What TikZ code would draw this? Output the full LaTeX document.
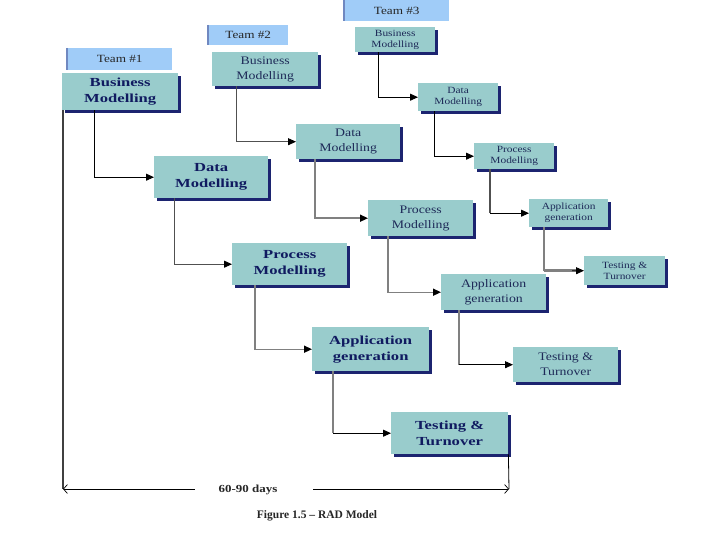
\documentclass[tikz,border=0pt]{standalone}
\usepackage{fontspec}
\setmainfont{Liberation Serif}
\newfontfamily\radfont[FakeStretch=1.2]{Liberation Serif}
\newfontfamily\tonefont[FakeStretch=1.35]{Liberation Serif}
\usetikzlibrary{arrows.meta,shadows,calc}
\definecolor{boxfill}{HTML}{99CCCC}
\definecolor{shadownavy}{HTML}{1C2470}
\definecolor{navytext}{HTML}{101A60}
\definecolor{bluetext}{HTML}{1E2A58}
\definecolor{teamfill}{HTML}{A0CCF8}
\definecolor{teamedge}{HTML}{7088C0}
\definecolor{linegray}{HTML}{505050}
\definecolor{lightline}{HTML}{808080}
\tikzset{
  box/.style={fill=boxfill, inner sep=0pt, align=center, anchor=north west,
    drop shadow={shadow xshift=2.5pt, shadow yshift=-2.5pt, fill=shadownavy, opacity=1}},
  boxone/.style={box, text=navytext, font=\tonefont\bfseries\fontsize{12.3}{16}\selectfont},
  boxtwo/.style={box, text=bluetext, font=\radfont\fontsize{11.5}{15}\selectfont},
  boxthree/.style={box, text=bluetext, font=\radfont\fontsize{9.5}{11}\selectfont},
  team/.style={fill=teamfill, inner sep=0pt, anchor=north west, text=black!85,
    font=\radfont\fontsize{11}{13}\selectfont},
  conn/.style={draw=linegray, line width=0.9pt, -{Triangle[length=8pt,width=7pt,color=black]}},
  connlight/.style={conn, draw=lightline, line width=1.4pt},
  seg/.style={draw=lightline, line width=1.4pt},
  thickseg/.style={draw=lightline, line width=2.8pt},
  darkthick/.style={draw=linegray, line width=2.6pt},
}
\begin{document}
\begin{tikzpicture}[x=1pt,y=-1pt]
\useasboundingbox (0,0) rectangle (720,540);
\fill[white] (0,0) rectangle (720,540);

% Team labels
\node[team, minimum width=105pt, minimum height=22pt] (team1) at (67,48) {Team \#1};
\node[team, minimum width=80pt, minimum height=20pt] (team2) at (208,25) {Team \#2};
\node[team, minimum width=105pt, minimum height=21pt] (team3) at (344,0) {Team \#3};
\draw[teamedge, line width=1.2pt] (team1.north west) -- (team1.south west);
\draw[teamedge, line width=1.2pt] (team2.north west) -- (team2.south west);
\draw[teamedge, line width=1.2pt] (team3.north west) -- (team3.south west);

% Team 1
\node[boxone, minimum width=116pt, minimum height=37pt] (t1bm) at (62,73) {Business\\Modelling};
\node[boxone, minimum width=114pt, minimum height=42pt] (t1dm) at (154,156) {Data\\Modelling};
\node[boxone, minimum width=115pt, minimum height=42pt] (t1pm) at (232,243) {Process\\Modelling};
\node[boxone, minimum width=117pt, minimum height=44pt] (t1ag) at (312,327) {Application\\generation};
\node[boxone, minimum width=117pt, minimum height=42pt] (t1tt) at (391,412) {Testing \&\\Turnover};

% Team 2
\node[boxtwo, minimum width=106pt, minimum height=34pt] (t2bm) at (212,52) {Business\\Modelling};
\node[boxtwo, minimum width=104pt, minimum height=35pt] (t2dm) at (296,124) {Data\\Modelling};
\node[boxtwo, minimum width=105pt, minimum height=36pt] (t2pm) at (368,200) {Process\\Modelling};
\node[boxtwo, minimum width=105pt, minimum height=36pt] (t2ag) at (441,274) {Application\\generation};
\node[boxtwo, minimum width=105pt, minimum height=35pt] (t2tt) at (513,347) {Testing \&\\Turnover};

% Team 3
\node[boxthree, minimum width=80pt, minimum height=25pt] (t3bm) at (355,27) {Business\\Modelling};
\node[boxthree, minimum width=80pt, minimum height=28pt] (t3dm) at (418,83) {Data\\Modelling};
\node[boxthree, minimum width=80pt, minimum height=26pt] (t3pm) at (474,143) {Process\\Modelling};
\node[boxthree, minimum width=79pt, minimum height=28pt] (t3ag) at (529,199) {Application\\generation};
\node[boxthree, minimum width=81pt, minimum height=29pt] (t3tt) at (584,256) {Testing \&\\Turnover};

% Team 1 connectors
\draw[conn, draw=black] ($(t1bm.south west)+(32,0)$) |- (t1dm.west);
\draw[conn] ($(t1dm.south west)+(20,0)$) |- (t1pm.west);
\coordinate (c1pa) at ($(t1pm.south west)+(23,0)$);
\draw[connlight] (c1pa) |- (t1ag.west);
\coordinate (c1at) at ($(t1ag.south west)+(21,0)$);
\coordinate (c1atk) at (c1at |- t1tt.west);
\draw[thickseg] (c1at) -- (c1atk);
\draw[conn, draw=black] (c1atk) -- (t1tt.west);

% Team 2 connectors
\draw[conn] ($(t2bm.south west)+(24,0)$) |- (t2dm.west);
\draw[connlight] ($(t2dm.south west)+(19,0)$) |- (t2pm.west);
\draw[connlight] ($(t2pm.south west)+(20,0)$) |- (t2ag.west);
\coordinate (c2at) at ($(t2ag.south west)+(18,0)$);
\coordinate (c2atk) at (c2at |- t2tt.west);
\draw[seg] (c2at) -- (c2atk);
\draw[conn, draw=black] (c2atk) -- (t2tt.west);

% Team 3 connectors
\draw[conn, draw=black] ($(t3bm.south west)+(23,0)$) |- (t3dm.west);
\draw[conn, draw=black] ($(t3dm.south west)+(16,0)$) |- (t3pm.west);
\coordinate (c3pa) at ($(t3pm.south west)+(16,0)$);
\coordinate (c3pak) at (c3pa |- t3ag.west);
\draw[darkthick] (c3pa) -- (c3pak);
\draw[conn, draw=black] (c3pak) -- (t3ag.west);
\coordinate (c3at) at ($(t3ag.south west)+(15,0)$);
\coordinate (c3atk) at (c3at |- t3tt.west);
\draw[seg] (c3at) -- (c3atk);
\draw[thickseg, shorten >=6pt] (c3atk) -- (t3tt.west);
\draw[conn, draw=black] ($(c3atk)!0.7!(t3tt.west)$) -- (t3tt.west);

% Timeline
\coordinate (tlL) at (63,489);
\coordinate (tlR) at (509,489);
\coordinate (gapL) at (195,489);
\coordinate (gapR) at (313,489);
\draw[draw=black!75, line width=2.2pt] ($(t1bm.south west)+(1,0)$) -- (tlL);
\draw[draw=black, line width=0.8pt] (t1tt.south east) -- (tlR);
\draw[draw=black, line width=0.7pt, {Straight Barb[length=4pt,width=9pt]}-] (tlL) -- (gapL);
\draw[draw=black, line width=0.7pt, -{Straight Barb[length=4pt,width=9pt]}] (gapR) -- (tlR);
\node[font=\radfont\bfseries\fontsize{10.8}{12}\selectfont, text=black!85, inner sep=0pt] (days) at (248,490) {60-90 days};

% Caption
\node[font=\bfseries\fontsize{11.5}{13}\selectfont, text=black!85, inner sep=0pt] (caption) at (317,516) {Figure 1.5 -- RAD Model};
\end{tikzpicture}
\end{document}
